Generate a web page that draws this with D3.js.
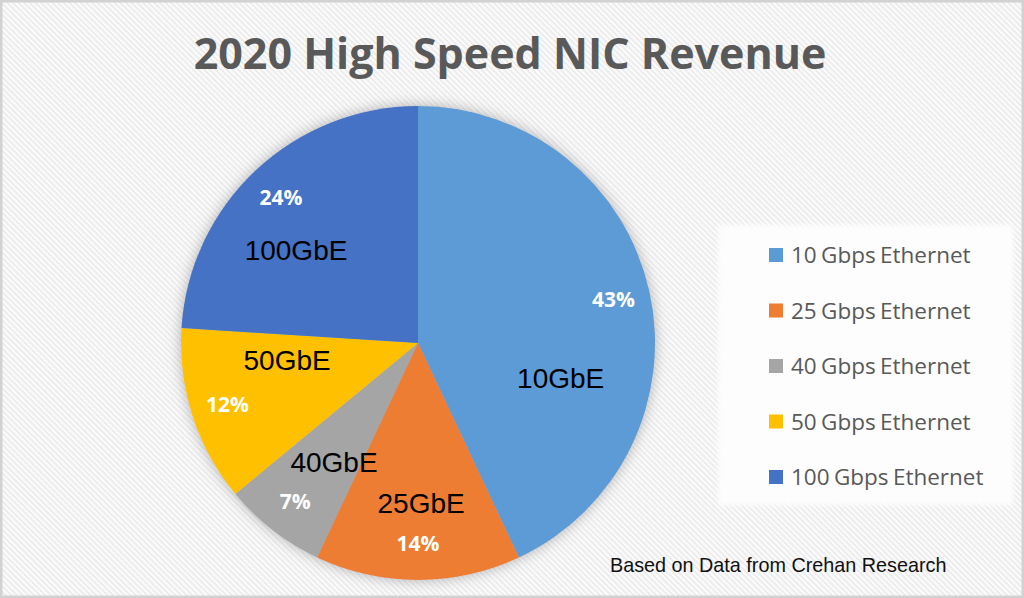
<!DOCTYPE html>
<html>
<head>
<meta charset="utf-8">
<script src="https://cdn.jsdelivr.net/npm/d3@7"></script>
<style>
  html, body { margin: 0; padding: 0; background: #ffffff; }
  svg { display: block; }
</style>
</head>
<body>
<svg id="chart" width="1024" height="598"></svg>
<script>
// ---- data ----
const categories = ["10 Gbps Ethernet", "25 Gbps Ethernet", "40 Gbps Ethernet", "50 Gbps Ethernet", "100 Gbps Ethernet"];
const shortLabels = ["10GbE", "25GbE", "40GbE", "50GbE", "100GbE"];
const values = [43, 14, 7, 12, 24];
const colors = ["#5B9BD5", "#ED7D31", "#A5A5A5", "#FFC000", "#4472C4"];
const titleText = "2020 High Speed NIC Revenue";
const sourceText = "Based on Data from Crehan Research";
// annotation text boxes (manually placed in the original): angle in degrees clockwise from top, radius as fraction of pie radius
const annotationPolar = [
  { angle: 103.8, r: 0.62 },
  { angle: 178.9, r: 0.675 },
  { angle: 215.2, r: 0.615 },
  { angle: 262.6, r: 0.557 },
  { angle: 307.3, r: 0.647 }
];

// ---- layout ----
const W = 1024, H = 598;
const cx = 418, cy = 343, R = 237;
const svg = d3.select("#chart");
const defs = svg.append("defs");

const pat = defs.append("pattern")
  .attr("id", "stripes")
  .attr("patternUnits", "userSpaceOnUse")
  .attr("width", 4).attr("height", 4)
  .attr("patternTransform", "rotate(45)");
pat.append("rect").attr("width", 4).attr("height", 4).attr("fill", "#fbfbfb");
pat.append("rect").attr("width", 4).attr("height", 1.6).attr("fill", "#e9e9e9");

const glow = defs.append("filter").attr("id", "glow")
  .attr("x", "-20%").attr("y", "-20%").attr("width", "140%").attr("height", "140%");
glow.append("feDropShadow")
  .attr("dx", 0).attr("dy", 0).attr("stdDeviation", 7)
  .attr("flood-color", "#7f7f7f").attr("flood-opacity", 0.6);

const lg = defs.append("filter").attr("id", "soft")
  .attr("x", "-5%").attr("y", "-5%").attr("width", "110%").attr("height", "110%");
lg.append("feGaussianBlur").attr("stdDeviation", 2);

// background
svg.append("rect").attr("x", 0).attr("y", 0).attr("width", W).attr("height", H)
  .attr("fill", "url(#stripes)");
svg.append("rect").attr("x", 1).attr("y", 1).attr("width", W - 2).attr("height", H - 2)
  .attr("fill", "none").attr("stroke", "#d2d2d2").attr("stroke-width", 3);

// title
svg.append("text")
  .attr("x", 510).attr("y", 69)
  .attr("text-anchor", "middle")
  .attr("font-family", "'Open Sans', sans-serif")
  .attr("font-weight", "bold")
  .attr("font-size", 43)
  .attr("fill", "#595959")
  .text(titleText);

// pie
const pie = d3.pie().sort(null).value(d => d)(values);
const arc = d3.arc().innerRadius(0).outerRadius(R);
const labelArc = d3.arc().innerRadius(R * 0.845).outerRadius(R * 0.845);

const g = svg.append("g").attr("transform", `translate(${cx},${cy})`);
g.append("g").attr("filter", "url(#glow)")
  .selectAll("path").data(pie).join("path")
  .attr("d", arc)
  .attr("fill", (d, i) => colors[i]);

// percent labels
g.selectAll("text.pct").data(pie).join("text")
  .attr("class", "pct")
  .attr("transform", d => `translate(${labelArc.centroid(d)})`)
  .attr("text-anchor", "middle")
  .attr("dy", "0.36em")
  .attr("font-family", "'Open Sans', sans-serif")
  .attr("font-weight", "bold")
  .attr("font-size", 21)
  .attr("fill", "#ffffff")
  .text(d => d.data + "%");

// annotation labels
g.selectAll("text.ann").data(annotationPolar).join("text")
  .attr("class", "ann")
  .attr("x", d => Math.sin(d.angle * Math.PI / 180) * d.r * R)
  .attr("y", d => -Math.cos(d.angle * Math.PI / 180) * d.r * R)
  .attr("text-anchor", "middle")
  .attr("dy", "0.36em")
  .attr("font-family", "'Liberation Sans', Arial, sans-serif")
  .attr("font-size", 28)
  .attr("fill", "#000000")
  .text((d, i) => shortLabels[i]);

// legend
const legX = 718, legY = 225, legW = 295, legH = 280;
svg.append("rect").attr("x", legX).attr("y", legY).attr("width", legW).attr("height", legH)
  .attr("fill", "#fdfdfd").attr("filter", "url(#soft)");
const legScale = d3.scalePoint().domain(categories).range([255, 477]);
const leg = svg.append("g");
const items = leg.selectAll("g").data(categories).join("g")
  .attr("transform", d => `translate(769,${legScale(d)})`);
items.append("rect")
  .attr("x", 0).attr("y", -7).attr("width", 14).attr("height", 14)
  .attr("fill", (d, i) => colors[i]);
items.append("text")
  .attr("x", 22).attr("y", 0).attr("dy", "0.36em")
  .attr("font-family", "'Open Sans', sans-serif")
  .attr("font-size", 22.5)
  .attr("word-spacing", -1.5)
  .attr("fill", "#595959")
  .text(d => d);

// source note
svg.append("text")
  .attr("x", 610).attr("y", 572)
  .attr("font-family", "'Liberation Sans', Arial, sans-serif")
  .attr("font-size", 19.8)
  .attr("fill", "#111111")
  .text(sourceText);
</script>
</body>
</html>
